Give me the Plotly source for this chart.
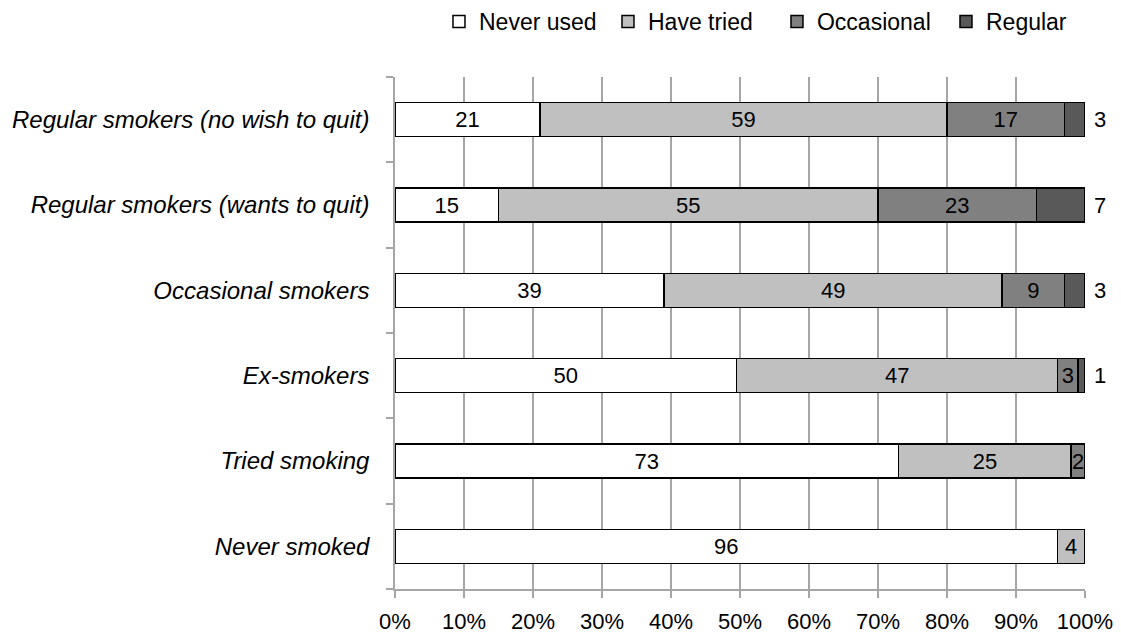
import plotly.graph_objects as go

# Smoking status groups, listed bottom to top as drawn on the y axis
groups = [
    "Never smoked",
    "Tried smoking",
    "Ex-smokers",
    "Occasional smokers",
    "Regular smokers (wants to quit)",
    "Regular smokers (no wish to quit)",
]

never_used = [96, 73, 50, 39, 15, 21]
have_tried = [4, 25, 47, 49, 55, 59]
occasional = [0, 2, 3, 9, 23, 17]
regular = [0, 0, 1, 3, 7, 3]

series = [
    ("Never used", never_used, "#FFFFFF", "inside"),
    ("Have tried", have_tried, "#C0C0C0", "inside"),
    ("Occasional", occasional, "#808080", "inside"),
    ("Regular", regular, "#595959", "outside"),
]

FONT = "Liberation Sans"


def bar_text(vals, outside):
    pad = "\u00a0" if outside else ""
    return [pad + str(v) if v > 0 else "" for v in vals]


fig = go.Figure()
for name, vals, color, pos in series:
    fig.add_trace(go.Bar(
        y=groups,
        x=vals,
        name=name,
        orientation="h",
        marker=dict(color=color, line=dict(color="#000000", width=1.5)),
        text=bar_text(vals, pos == "outside"),
        textposition=pos,
        insidetextanchor="middle",
        constraintext="none",
        textfont=dict(family=FONT, size=22, color="#000000"),
        cliponaxis=False,
        hoverinfo="skip",
    ))

fig.update_layout(
    barmode="stack",
    barnorm="percent",
    bargap=0.6,
    width=1121,
    height=635,
    margin=dict(l=395, r=36, t=77, b=46, autoexpand=False),
    paper_bgcolor="#FFFFFF",
    plot_bgcolor="#FFFFFF",
    font=dict(family=FONT, size=22, color="#000000"),
    legend=dict(
        orientation="h",
        xref="container",
        x=0.3916, xanchor="left",
        yref="container",
        y=1.0, yanchor="top",
        font=dict(family=FONT, size=23, color="#000000"),
        traceorder="normal",
        itemwidth=30,
        entrywidth=124,
        entrywidthmode="pixels",
        bgcolor="rgba(0,0,0,0)",
    ),
    showlegend=True,
)

fig.update_xaxes(
    range=[0, 100],
    tickvals=[0, 10, 20, 30, 40, 50, 60, 70, 80, 90, 100],
    ticktext=["0%", "10%", "20%", "30%", "40%", "50%", "60%", "70%", "80%", "90%", "100%"],
    showgrid=True,
    gridcolor="#A6A6A6",
    gridwidth=1.5,
    showline=True,
    linecolor="#A6A6A6",
    linewidth=1.5,
    ticks="outside",
    ticklen=7,
    tickcolor="#A6A6A6",
    tickwidth=1.5,
    ticklabelstandoff=5,
    automargin=False,
    zeroline=False,
    tickfont=dict(family=FONT, size=22, color="#000000"),
    fixedrange=True,
)
fig.update_yaxes(
    categoryorder="array",
    categoryarray=groups,
    showline=True,
    linecolor="#A6A6A6",
    linewidth=1.5,
    ticks="outside",
    tickson="boundaries",
    ticklen=7,
    tickcolor="#A6A6A6",
    tickwidth=1.5,
    showgrid=False,
    ticklabelstandoff=19,
    automargin=False,
    tickfont=dict(family=FONT, size=24, color="#000000", style="italic"),
    fixedrange=True,
)

fig.write_html("out.html")
